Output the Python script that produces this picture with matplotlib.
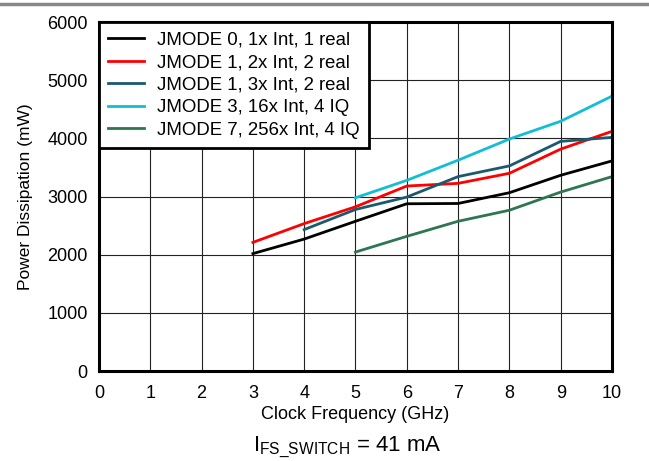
import matplotlib.pyplot as plt
from matplotlib.lines import Line2D

plt.rcParams['font.family'] = ['Liberation Sans', 'DejaVu Sans']
plt.rcParams['mathtext.fontset'] = 'custom'
plt.rcParams['mathtext.rm'] = 'Liberation Sans'

# Clock frequency (GHz) and power dissipation (mW)
freq_3_10 = [3, 4, 5, 6, 7, 8, 9, 10]
freq_4_10 = [4, 5, 6, 7, 8, 9, 10]
freq_5_10 = [5, 6, 7, 8, 9, 10]

jmode0 = [2020, 2270, 2576, 2877, 2882, 3067, 3367, 3614]
jmode1_2x = [2213, 2536, 2825, 3182, 3228, 3401, 3817, 4122]
jmode1_3x = [2433, 2779, 2992, 3344, 3528, 3950, 4019]
jmode3 = [2980, 3280, 3626, 3990, 4296, 4728]
jmode7 = [2047, 2317, 2576, 2766, 3078, 3344]

labels = ["JMODE 0, 1x Int, 1 real", "JMODE 1, 2x Int, 2 real",
          "JMODE 1, 3x Int, 2 real", "JMODE 3, 16x Int, 4 IQ",
          "JMODE 7, 256x Int, 4 IQ"]
colors = ["#000000", "#ff0000", "#1b5a6e", "#10bfd4", "#2e7552"]

fig = plt.figure(figsize=(6.49, 4.61), dpi=100)
ax = fig.add_axes([0.1525, 0.195, 0.7905, 0.757])

series = [(freq_3_10, jmode0), (freq_3_10, jmode1_2x), (freq_4_10, jmode1_3x),
          (freq_5_10, jmode3), (freq_5_10, jmode7)]
for (x, y), lab, c in zip(series, labels, colors):
    ax.plot(x, y, color=c, linewidth=2, label=lab)

ax.set_xlim(0, 10)
ax.set_ylim(0, 6000)
ax.set_xticks(range(0, 11))
ax.set_yticks(range(0, 6001, 1000))
ax.grid(True, color='#222222', linewidth=0.8)
ax.tick_params(length=0, labelsize=13)
ax.tick_params(axis='x', pad=10)
ax.tick_params(axis='y', pad=8)
for s in ax.spines.values():
    s.set_linewidth(2.2)
ax.set_xlabel("Clock Frequency (GHz)", fontsize=13, labelpad=3)
ax.set_ylabel("Power Dissipation (mW)", fontsize=12.5, labelpad=10)

leg = ax.legend(loc='upper left', fontsize=13.4, frameon=True, fancybox=False,
                framealpha=1, edgecolor='black', borderaxespad=0,
                handlelength=1.9, handletextpad=0.7, labelspacing=0.3,
                borderpad=0.5)
leg.get_frame().set_linewidth(2)

fig.text(0.535, 0.022, r"I$_{\mathregular{FS\_SWITCH}}$ = 41 mA", ha='center',
         fontsize=16)

fig.add_artist(Line2D([0, 1], [0.991, 0.991], color='#888888', linewidth=2.5,
                      transform=fig.transFigure))

fig.savefig("out.png", dpi=100)
